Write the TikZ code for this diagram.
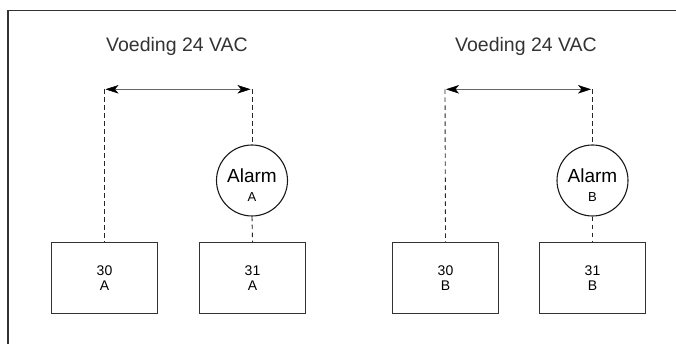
\documentclass[tikz,border=0pt]{standalone}
\usepackage{fontspec}
\setmainfont{Liberation Sans}
\usetikzlibrary{arrows.meta}
\begin{document}
\begin{tikzpicture}[x=1pt,y=-1pt,
  frameline/.style={draw=black!80,line width=1.4pt},
  unitbox/.style={draw=black!80,line width=1.4pt,minimum width=106pt,minimum height=71pt,
    inner sep=0pt,align=center,font=\fontsize{14}{15.5}\selectfont},
  alarmnode/.style={circle,draw=black!90,line width=1.1pt,minimum size=71pt,inner sep=0pt,align=center},
  wire/.style={dash pattern=on 4.5pt off 3.5pt,line width=0.9pt,black!85},
  tipstyle/.tip={Stealth[length=13pt,width=8.5pt,inset=3.5pt,line width=0.5pt,black]},
  supply/.style={tipstyle-tipstyle,line width=1.5pt,draw=black!60},
  title/.style={font=\fontsize{19.5}{22}\selectfont,text=black!80}]
\useasboundingbox (0,0) rectangle (676,344);
% outer frame (open on the right and bottom)
\draw[frameline] (690,10.5) -- (8,10.5) -- (8,360);

% group A
\node[title] (vA) at (177,46) {Voeding 24 VAC};
\coordinate (tA1) at (104.5,89.3);
\coordinate (tA2) at (252,89.3);
\node[unitbox] (b30A) at (104.5,278) {30\\A};
\node[unitbox] (b31A) at (252.5,278) {31\\A};
\node[alarmnode] (alA) at (252,180.5) {};
\node[font=\fontsize{19}{22}\selectfont] (alAt) at (252,175.5) {Alarm};
\node[font=\fontsize{13}{14}\selectfont] (alAl) at (252,197.5) {A};
\draw[wire] (tA1) -- (b30A.north);
\draw[wire] (tA2) -- (alA.north);
\draw[wire] (alA.south) -- (b31A.north);
\draw[supply] ([xshift=1pt]tA1) -- ([xshift=-1.5pt]tA2);

% group B
\node[title] (vB) at (526,46) {Voeding 24 VAC};
\coordinate (tB1) at (445,89.3);
\coordinate (tB2) at (592.5,89.3);
\node[unitbox] (b30B) at (445.5,278) {30\\B};
\node[unitbox] (b31B) at (592.5,278) {31\\B};
\node[alarmnode] (alB) at (592.5,180.5) {};
\node[font=\fontsize{19}{22}\selectfont] (alBt) at (592.5,175.5) {Alarm};
\node[font=\fontsize{13}{14}\selectfont] (alBl) at (592.5,197.5) {B};
\draw[wire] (tB1) -- (b30B.north);
\draw[wire] (tB2) -- (alB.north);
\draw[wire] (alB.south) -- (b31B.north);
\draw[supply] ([xshift=1pt]tB1) -- ([xshift=-1.5pt]tB2);
\end{tikzpicture}
\end{document}
